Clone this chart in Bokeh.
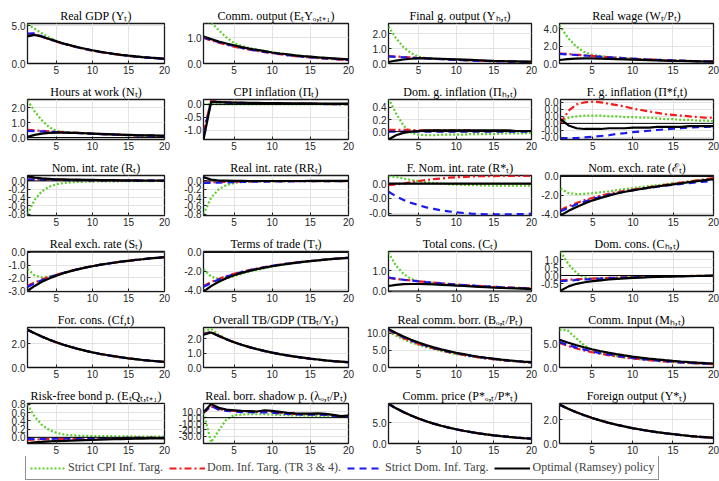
from bokeh.plotting import figure
from bokeh.layouts import column, row
from bokeh.models import (Range1d, FixedTicker, PrintfTickFormatter, Span,
                          Legend, LegendItem)
from bokeh.embed import file_html
from bokeh.resources import INLINE

x = list(range(1, 21))

# ---------------- data ----------------
gdp_cpi = [5.2, 4.6, 4.0, 3.45, 3.0, 2.65, 2.38, 2.13, 1.92, 1.72, 1.55, 1.39, 1.25, 1.13, 1.01, 0.91, 0.82, 0.74, 0.67, 0.6]
gdp_dom = [3.85, 3.95, 3.55, 3.22, 2.9, 2.6, 2.35, 2.1, 1.9, 1.7, 1.53, 1.38, 1.24, 1.12, 1.0, 0.9, 0.82, 0.74, 0.67, 0.6]
gdp_sdom = [3.95, 4.0, 3.6, 3.25, 2.93, 2.63, 2.37, 2.13, 1.92, 1.72, 1.55, 1.4, 1.26, 1.13, 1.02, 0.92, 0.83, 0.75, 0.68, 0.61]
gdp_ram = [3.6, 3.8, 3.55, 3.25, 2.95, 2.65, 2.4, 2.15, 1.95, 1.75, 1.57, 1.42, 1.28, 1.15, 1.04, 0.94, 0.85, 0.77, 0.7, 0.63]

com_cpi = [1.6, 1.6, 1.3, 1.02, 0.8, 0.68, 0.6, 0.54, 0.49, 0.44, 0.4, 0.36, 0.32, 0.29, 0.26, 0.24, 0.21, 0.19, 0.17, 0.15]
com_dom = [1.0, 0.9, 0.81, 0.73, 0.66, 0.6, 0.54, 0.49, 0.44, 0.4, 0.36, 0.32, 0.29, 0.26, 0.24, 0.21, 0.19, 0.17, 0.15, 0.13]
com_sdom = [1.02, 0.92, 0.83, 0.75, 0.68, 0.61, 0.55, 0.5, 0.45, 0.41, 0.37, 0.33, 0.3, 0.27, 0.24, 0.22, 0.2, 0.18, 0.16, 0.14]
com_ram = [1.05, 0.95, 0.86, 0.78, 0.71, 0.64, 0.58, 0.53, 0.48, 0.43, 0.39, 0.36, 0.32, 0.29, 0.27, 0.24, 0.22, 0.2, 0.18, 0.16]

fgo_cpi = [2.5, 1.7, 1.1, 0.7, 0.45, 0.37, 0.33, 0.3, 0.27, 0.25, 0.22, 0.2, 0.18, 0.17, 0.15, 0.14, 0.13, 0.12, 0.11, 0.1]
fgo_dom = [0.5, 0.47, 0.44, 0.41, 0.38, 0.35, 0.32, 0.3, 0.27, 0.25, 0.23, 0.21, 0.19, 0.17, 0.16, 0.14, 0.13, 0.12, 0.11, 0.1]
fgo_sdom = [0.48, 0.45, 0.42, 0.39, 0.36, 0.34, 0.31, 0.29, 0.26, 0.24, 0.22, 0.2, 0.18, 0.17, 0.15, 0.14, 0.13, 0.12, 0.11, 0.1]
fgo_ram = [0.1, 0.2, 0.27, 0.32, 0.34, 0.34, 0.33, 0.32, 0.3, 0.28, 0.26, 0.24, 0.22, 0.2, 0.18, 0.17, 0.15, 0.14, 0.13, 0.12]

wage_cpi = [4.4, 3.0, 2.0, 1.35, 1.0, 0.85, 0.75, 0.68, 0.62, 0.56, 0.5, 0.46, 0.42, 0.38, 0.35, 0.32, 0.29, 0.27, 0.25, 0.23]
wage_dom = [1.15, 1.1, 1.02, 0.95, 0.88, 0.8, 0.74, 0.67, 0.61, 0.56, 0.51, 0.47, 0.43, 0.39, 0.36, 0.33, 0.3, 0.28, 0.26, 0.24]
wage_sdom = [1.1, 1.05, 0.98, 0.92, 0.85, 0.78, 0.72, 0.66, 0.6, 0.55, 0.5, 0.46, 0.42, 0.38, 0.35, 0.32, 0.29, 0.27, 0.25, 0.23]
wage_ram = [0.4, 0.5, 0.56, 0.58, 0.58, 0.56, 0.54, 0.51, 0.48, 0.45, 0.42, 0.39, 0.36, 0.33, 0.31, 0.29, 0.27, 0.25, 0.23, 0.22]

hrs_cpi = [2.5, 1.75, 1.15, 0.7, 0.45, 0.38, 0.34, 0.31, 0.28, 0.26, 0.23, 0.21, 0.19, 0.17, 0.16, 0.14, 0.13, 0.12, 0.11, 0.1]
hrs_dom = [0.52, 0.48, 0.45, 0.42, 0.39, 0.36, 0.33, 0.31, 0.28, 0.26, 0.24, 0.22, 0.2, 0.18, 0.17, 0.15, 0.14, 0.13, 0.12, 0.11]
hrs_sdom = [0.45, 0.43, 0.41, 0.39, 0.37, 0.34, 0.32, 0.3, 0.27, 0.25, 0.23, 0.21, 0.19, 0.18, 0.16, 0.15, 0.14, 0.13, 0.12, 0.11]
hrs_ram = [0.05, 0.18, 0.26, 0.31, 0.33, 0.33, 0.32, 0.31, 0.29, 0.27, 0.25, 0.23, 0.21, 0.19, 0.18, 0.16, 0.15, 0.14, 0.13, 0.12]

cpi_cpi = [0.0, 0.0, 0.0, 0.0, 0.0, 0.0, 0.0, 0.0, 0.0, 0.0, 0.0, 0.0, 0.0, 0.0, 0.0, 0.0, 0.0, 0.0, 0.0, 0.0]
cpi_dom = [-1.05, 0.14, 0.1, 0.08, 0.07, 0.06, 0.05, 0.05, 0.04, 0.04, 0.03, 0.03, 0.03, 0.02, 0.02, 0.02, 0.02, 0.01, 0.01, 0.01]
cpi_sdom = [-1.15, 0.12, 0.09, 0.07, 0.06, 0.05, 0.05, 0.04, 0.04, 0.03, 0.03, 0.03, 0.02, 0.02, 0.02, 0.02, 0.01, 0.01, 0.01, 0.01]
cpi_ram = [-1.35, 0.1, 0.09, 0.08, 0.07, 0.07, 0.06, 0.06, 0.05, 0.05, 0.05, 0.04, 0.04, 0.04, 0.04, 0.03, 0.03, 0.03, 0.03, 0.03]

dgi_cpi = [0.55, 0.3, 0.1, -0.02, -0.05, -0.06, -0.06, -0.05, -0.05, -0.05, -0.05, -0.04, -0.04, -0.04, -0.04, -0.03, -0.03, -0.03, -0.03, -0.02]
dgi_dom = [0.03, 0.03, 0.03, 0.03, 0.02, 0.02, 0.02, 0.02, 0.02, 0.02, 0.02, 0.02, 0.01, 0.01, 0.01, 0.01, 0.01, 0.01, 0.01, 0.01]
dgi_sdom = [0.0, 0.0, 0.0, 0.0, 0.0, 0.0, 0.0, 0.0, 0.0, 0.0, 0.0, 0.0, 0.0, 0.0, 0.0, 0.0, 0.0, 0.0, 0.0, 0.0]
dgi_ram = [-0.13, -0.06, -0.02, 0.0, 0.01, 0.02, 0.02, 0.02, 0.02, 0.02, 0.02, 0.02, 0.02, 0.02, 0.02, 0.02, 0.02, 0.01, 0.01, 0.01]

fgi_cpi = [0.002, 0.008, 0.01, 0.011, 0.011, 0.011, 0.01, 0.01, 0.009, 0.009, 0.008, 0.008, 0.007, 0.006, 0.006, 0.005, 0.005, 0.004, 0.004, 0.003]
fgi_dom = [0.0, 0.018, 0.027, 0.03, 0.031, 0.03, 0.028, 0.026, 0.024, 0.021, 0.019, 0.017, 0.015, 0.013, 0.012, 0.011, 0.01, 0.009, 0.008, 0.008]
fgi_sdom = [-0.021, -0.021, -0.021, -0.02, -0.019, -0.018, -0.017, -0.015, -0.014, -0.0125, -0.0115, -0.0105, -0.0095, -0.0085, -0.0075, -0.007, -0.006, -0.0055, -0.005, -0.0045]
fgi_ram = [0.006, -0.003, -0.007, -0.008, -0.008, -0.008, -0.007, -0.007, -0.007, -0.006, -0.006, -0.006, -0.005, -0.005, -0.005, -0.005, -0.004, -0.004, -0.004, -0.004]

nir_cpi = [-0.8, -0.45, -0.25, -0.14, -0.08, -0.05, -0.035, -0.025, -0.02, -0.015, -0.012, -0.01, -0.009, -0.008, -0.007, -0.006, -0.005, -0.005, -0.004, -0.004]
nir_dom = [0.04, 0.04, 0.035, 0.03, 0.03, 0.025, 0.02, 0.02, 0.02, 0.015, 0.015, 0.01, 0.01, 0.01, 0.01, 0.01, 0.005, 0.005, 0.005, 0.005]
nir_sdom = [0.03, 0.03, 0.03, 0.025, 0.025, 0.02, 0.02, 0.02, 0.015, 0.015, 0.01, 0.01, 0.01, 0.01, 0.01, 0.005, 0.005, 0.005, 0.005, 0.005]
nir_ram = [0.11, 0.08, 0.06, 0.05, 0.04, 0.035, 0.03, 0.03, 0.025, 0.025, 0.02, 0.02, 0.02, 0.015, 0.015, 0.015, 0.01, 0.01, 0.01, 0.01]

rir_cpi = [-0.8, -0.4, -0.2, -0.1, -0.05, -0.03, -0.02, -0.015, -0.01, -0.01, -0.008, -0.007, -0.006, -0.005, -0.005, -0.004, -0.004, -0.003, -0.003, -0.003]
rir_dom = [-0.04, -0.035, -0.03, -0.025, -0.02, -0.018, -0.015, -0.013, -0.011, -0.01, -0.009, -0.008, -0.007, -0.006, -0.005, -0.005, -0.004, -0.004, -0.003, -0.003]
rir_sdom = [-0.05, -0.045, -0.04, -0.035, -0.03, -0.025, -0.02, -0.018, -0.015, -0.013, -0.011, -0.01, -0.009, -0.008, -0.007, -0.006, -0.005, -0.005, -0.004, -0.004]
rir_ram = [0.09, 0.03, 0.01, 0.005, 0.0, 0.0, -0.002, -0.002, -0.002, -0.002, -0.002, -0.002, -0.002, -0.002, -0.001, -0.001, -0.001, -0.001, -0.001, -0.001]

fnr_cpi = [0.005, 0.0045, 0.0035, 0.0025, 0.0016, 0.001, 0.0004, 0.0, -0.0004, -0.0007, -0.0009, -0.001, -0.0011, -0.0012, -0.0013, -0.0013, -0.0014, -0.0014, -0.0014, -0.0014]
fnr_dom = [-0.001, -0.0005, 0.0, 0.001, 0.0018, 0.0025, 0.003, 0.0035, 0.004, 0.0043, 0.0046, 0.0048, 0.005, 0.005, 0.0051, 0.0052, 0.0052, 0.0052, 0.0052, 0.0052]
fnr_sdom = [-0.0055, -0.0085, -0.011, -0.013, -0.0145, -0.016, -0.017, -0.018, -0.0187, -0.0193, -0.0198, -0.0202, -0.0205, -0.0207, -0.0208, -0.0208, -0.0207, -0.0206, -0.0205, -0.0203]
fnr_ram = [0.0, 0.0, 0.0, 0.0, 0.0, 0.0, 0.0, 0.0, 0.0, 0.0, 0.0, 0.0, 0.0, 0.0, 0.0, 0.0, 0.0, 0.0, 0.0, 0.0]

ner_cpi = [-1.3, -1.8, -1.9, -1.88, -1.8, -1.7, -1.6, -1.48, -1.37, -1.26, -1.15, -1.04, -0.94, -0.84, -0.74, -0.64, -0.54, -0.44, -0.34, -0.24]
ner_dom = [-3.6, -3.2, -2.85, -2.55, -2.3, -2.07, -1.87, -1.7, -1.55, -1.42, -1.29, -1.16, -1.03, -0.9, -0.78, -0.66, -0.54, -0.42, -0.3, -0.18]
ner_sdom = [-3.75, -3.35, -3.0, -2.7, -2.43, -2.19, -1.98, -1.8, -1.63, -1.48, -1.35, -1.23, -1.11, -1.0, -0.9, -0.8, -0.71, -0.63, -0.55, -0.47]
ner_ram = [-4.2, -3.7, -3.28, -2.9, -2.57, -2.3, -2.06, -1.84, -1.65, -1.5, -1.35, -1.21, -1.08, -0.96, -0.85, -0.73, -0.62, -0.5, -0.4, -0.3]

rer_cpi = [-1.3, -1.8, -1.95, -1.9, -1.78, -1.6, -1.45, -1.31, -1.19, -1.08, -0.98, -0.89, -0.81, -0.73, -0.66, -0.6, -0.54, -0.48, -0.43, -0.38]
rer_dom = [-2.6, -2.35, -2.12, -1.92, -1.75, -1.59, -1.44, -1.31, -1.19, -1.08, -0.98, -0.89, -0.81, -0.73, -0.66, -0.6, -0.54, -0.48, -0.43, -0.38]
rer_sdom = [-2.7, -2.42, -2.17, -1.96, -1.77, -1.61, -1.46, -1.32, -1.2, -1.09, -0.99, -0.9, -0.81, -0.74, -0.67, -0.6, -0.54, -0.49, -0.44, -0.39]
rer_ram = [-3.0, -2.62, -2.3, -2.04, -1.82, -1.63, -1.47, -1.33, -1.2, -1.09, -0.99, -0.9, -0.82, -0.74, -0.67, -0.61, -0.55, -0.49, -0.44, -0.39]

tot_cpi = [-1.8, -2.6, -2.85, -2.75, -2.55, -2.3, -2.07, -1.87, -1.69, -1.53, -1.39, -1.26, -1.14, -1.04, -0.94, -0.85, -0.77, -0.7, -0.63, -0.57]
tot_dom = [-3.6, -3.2, -2.85, -2.55, -2.3, -2.08, -1.89, -1.72, -1.57, -1.43, -1.31, -1.2, -1.1, -1.0, -0.92, -0.84, -0.76, -0.69, -0.63, -0.57]
tot_sdom = [-3.7, -3.28, -2.92, -2.61, -2.35, -2.12, -1.92, -1.75, -1.59, -1.45, -1.32, -1.21, -1.1, -1.01, -0.92, -0.84, -0.76, -0.7, -0.63, -0.58]
tot_ram = [-4.2, -3.62, -3.15, -2.77, -2.46, -2.2, -1.98, -1.79, -1.63, -1.48, -1.35, -1.23, -1.12, -1.02, -0.93, -0.85, -0.77, -0.7, -0.64, -0.58]

tc_cpi = [1.9, 1.25, 0.85, 0.6, 0.48, 0.43, 0.4, 0.37, 0.34, 0.31, 0.28, 0.26, 0.24, 0.22, 0.2, 0.18, 0.16, 0.15, 0.13, 0.12]
tc_dom = [0.65, 0.6, 0.56, 0.52, 0.48, 0.45, 0.42, 0.39, 0.36, 0.33, 0.3, 0.28, 0.26, 0.23, 0.21, 0.19, 0.18, 0.16, 0.15, 0.13]
tc_sdom = [0.67, 0.61, 0.56, 0.52, 0.48, 0.44, 0.41, 0.38, 0.35, 0.32, 0.3, 0.27, 0.25, 0.23, 0.21, 0.19, 0.17, 0.16, 0.14, 0.13]
tc_ram = [0.25, 0.31, 0.34, 0.35, 0.35, 0.34, 0.33, 0.31, 0.29, 0.27, 0.25, 0.23, 0.21, 0.19, 0.17, 0.16, 0.14, 0.13, 0.12, 0.1]

dc_cpi = [1.5, 0.7, 0.15, -0.12, -0.18, -0.17, -0.15, -0.13, -0.11, -0.1, -0.08, -0.07, -0.06, -0.05, -0.04, -0.03, -0.03, -0.02, -0.02, -0.01]
dc_dom = [-0.3, -0.27, -0.24, -0.21, -0.19, -0.17, -0.15, -0.13, -0.11, -0.1, -0.08, -0.07, -0.06, -0.05, -0.04, -0.03, -0.03, -0.02, -0.02, -0.01]
dc_sdom = [-0.35, -0.32, -0.28, -0.25, -0.22, -0.19, -0.17, -0.15, -0.13, -0.11, -0.09, -0.08, -0.07, -0.06, -0.05, -0.04, -0.03, -0.03, -0.02, -0.02]
dc_ram = [-0.95, -0.68, -0.52, -0.42, -0.35, -0.3, -0.25, -0.21, -0.18, -0.15, -0.13, -0.11, -0.09, -0.07, -0.06, -0.05, -0.04, -0.03, -0.02, -0.01]

fc_cpi = [3.2, 2.9, 2.62, 2.36, 2.13, 1.93, 1.74, 1.57, 1.42, 1.28, 1.16, 1.05, 0.95, 0.86, 0.77, 0.7, 0.63, 0.57, 0.52, 0.47]
fc_dom = [3.2, 2.9, 2.62, 2.36, 2.13, 1.93, 1.74, 1.57, 1.42, 1.28, 1.16, 1.05, 0.95, 0.86, 0.77, 0.7, 0.63, 0.57, 0.52, 0.47]
fc_sdom = [3.2, 2.9, 2.62, 2.36, 2.13, 1.93, 1.74, 1.57, 1.42, 1.28, 1.16, 1.05, 0.95, 0.86, 0.77, 0.7, 0.63, 0.57, 0.52, 0.47]
fc_ram = [3.21, 2.91, 2.63, 2.37, 2.14, 1.94, 1.75, 1.58, 1.43, 1.29, 1.17, 1.06, 0.96, 0.87, 0.78, 0.71, 0.64, 0.58, 0.53, 0.48]

tb_cpi = [2.55, 2.7, 2.3, 2.0, 1.78, 1.59, 1.43, 1.28, 1.15, 1.03, 0.93, 0.84, 0.75, 0.68, 0.61, 0.55, 0.49, 0.44, 0.4, 0.36]
tb_dom = [2.35, 2.5, 2.22, 1.98, 1.77, 1.59, 1.43, 1.28, 1.15, 1.03, 0.93, 0.84, 0.75, 0.68, 0.61, 0.55, 0.49, 0.44, 0.4, 0.36]
tb_sdom = [2.33, 2.48, 2.21, 1.98, 1.77, 1.59, 1.43, 1.28, 1.15, 1.04, 0.93, 0.84, 0.76, 0.68, 0.61, 0.55, 0.5, 0.45, 0.4, 0.36]
tb_ram = [2.3, 2.45, 2.2, 1.97, 1.77, 1.59, 1.43, 1.29, 1.16, 1.04, 0.94, 0.85, 0.76, 0.69, 0.62, 0.56, 0.5, 0.45, 0.41, 0.37]

rcb_cpi = [10.5, 9.3, 8.25, 7.35, 6.6, 5.95, 5.35, 4.82, 4.35, 3.93, 3.55, 3.2, 2.89, 2.61, 2.36, 2.13, 1.93, 1.74, 1.58, 1.43]
rcb_dom = [10.9, 9.7, 8.65, 7.7, 6.9, 6.2, 5.55, 5.0, 4.5, 4.05, 3.65, 3.28, 2.95, 2.66, 2.4, 2.16, 1.95, 1.76, 1.59, 1.44]
rcb_sdom = [11.1, 9.9, 8.85, 7.9, 7.1, 6.35, 5.7, 5.15, 4.62, 4.16, 3.75, 3.38, 3.05, 2.75, 2.48, 2.24, 2.02, 1.83, 1.65, 1.5]
rcb_ram = [11.3, 10.1, 9.05, 8.1, 7.3, 6.55, 5.9, 5.3, 4.8, 4.3, 3.9, 3.5, 3.15, 2.85, 2.57, 2.32, 2.1, 1.9, 1.72, 1.55]

ci_cpi = [8.0, 7.9, 6.3, 4.8, 3.7, 3.05, 2.7, 2.42, 2.17, 1.95, 1.76, 1.59, 1.43, 1.29, 1.17, 1.06, 0.96, 0.87, 0.78, 0.71]
ci_dom = [5.2, 4.6, 4.08, 3.65, 3.27, 2.94, 2.64, 2.38, 2.14, 1.93, 1.74, 1.57, 1.42, 1.28, 1.16, 1.05, 0.95, 0.86, 0.78, 0.7]
ci_sdom = [5.4, 4.8, 4.27, 3.82, 3.42, 3.07, 2.76, 2.48, 2.24, 2.02, 1.82, 1.65, 1.49, 1.35, 1.22, 1.1, 1.0, 0.9, 0.82, 0.74]
ci_ram = [5.9, 5.3, 4.78, 4.3, 3.88, 3.5, 3.16, 2.85, 2.57, 2.32, 2.1, 1.9, 1.72, 1.55, 1.4, 1.27, 1.15, 1.04, 0.94, 0.85]

rfb_cpi = [0.8, 0.5, 0.3, 0.18, 0.11, 0.07, 0.05, 0.04, 0.035, 0.03, 0.03, 0.03, 0.025, 0.025, 0.025, 0.02, 0.02, 0.02, 0.02, 0.02]
rfb_dom = [-0.06, -0.055, -0.05, -0.045, -0.04, -0.038, -0.035, -0.032, -0.03, -0.027, -0.025, -0.023, -0.021, -0.019, -0.017, -0.015, -0.014, -0.013, -0.012, -0.011]
rfb_sdom = [-0.04, -0.038, -0.036, -0.034, -0.032, -0.03, -0.028, -0.026, -0.024, -0.022, -0.02, -0.019, -0.017, -0.016, -0.015, -0.014, -0.013, -0.012, -0.011, -0.01]
rfb_ram = [-0.14, -0.12, -0.11, -0.1, -0.09, -0.085, -0.078, -0.072, -0.066, -0.06, -0.055, -0.05, -0.046, -0.042, -0.038, -0.035, -0.032, -0.029, -0.026, -0.024]

rbs_cpi = [8, -40, -21, -3, 4, 5, 5.5, 5.5, 5.5, 5, 4.5, 4, 3.5, 3.5, 3, 3, 3, 2.5, 1.5, 2]
rbs_dom = [8, 18, 14, 12, 11, 10, 10, 9.5, 10, 9, 8, 7, 6, 5.5, 5.5, 5.5, 5, 3.5, 2, 3]
rbs_sdom = [8.5, 19, 13, 11, 10, 9, 9, 8.5, 9, 8, 7, 6, 5.5, 5, 5, 5, 4.5, 3, 1.5, 2.5]
rbs_ram = [8.5, 22, 16, 13, 12, 11, 10.5, 10, 12, 11, 9.5, 8, 7, 6.5, 6.5, 7, 6, 4.5, 2.5, 3.5]

cp_cpi = [9.5, 8.45, 7.52, 6.7, 5.97, 5.33, 4.76, 4.25, 3.8, 3.4, 3.04, 2.72, 2.43, 2.18, 1.95, 1.75, 1.57, 1.41, 1.27, 1.14]
cp_dom = [9.5, 8.45, 7.52, 6.7, 5.97, 5.33, 4.76, 4.25, 3.8, 3.4, 3.04, 2.72, 2.43, 2.18, 1.95, 1.75, 1.57, 1.41, 1.27, 1.14]
cp_sdom = [9.5, 8.45, 7.52, 6.7, 5.97, 5.33, 4.76, 4.25, 3.8, 3.4, 3.04, 2.72, 2.43, 2.18, 1.95, 1.75, 1.57, 1.41, 1.27, 1.14]
cp_ram = [9.52, 8.47, 7.54, 6.72, 5.99, 5.35, 4.78, 4.27, 3.82, 3.42, 3.06, 2.74, 2.45, 2.2, 1.97, 1.77, 1.59, 1.43, 1.29, 1.16]

fo_cpi = [3.25, 2.92, 2.63, 2.37, 2.14, 1.93, 1.74, 1.57, 1.42, 1.28, 1.16, 1.05, 0.95, 0.86, 0.78, 0.7, 0.63, 0.57, 0.52, 0.47]
fo_dom = [3.25, 2.92, 2.63, 2.37, 2.14, 1.93, 1.74, 1.57, 1.42, 1.28, 1.16, 1.05, 0.95, 0.86, 0.78, 0.7, 0.63, 0.57, 0.52, 0.47]
fo_sdom = [3.25, 2.92, 2.63, 2.37, 2.14, 1.93, 1.74, 1.57, 1.42, 1.28, 1.16, 1.05, 0.95, 0.86, 0.78, 0.7, 0.63, 0.57, 0.52, 0.47]
fo_ram = [3.26, 2.93, 2.64, 2.38, 2.15, 1.94, 1.75, 1.58, 1.43, 1.29, 1.17, 1.06, 0.96, 0.87, 0.79, 0.71, 0.64, 0.58, 0.53, 0.48]

titles = [
    "Real GDP (Yₜ)", "Comm. output (EₜYₒ,ₜ₊₁)", "Final g. output (Yₕ,ₜ)", "Real wage (Wₜ/Pₜ)",
    "Hours at work (Nₜ)", "CPI inflation (Πₜ)", "Dom. g. inflation (Πₕ,ₜ)", "F. g. inflation (Π*f,t)",
    "Nom. int. rate (Rₜ)", "Real int. rate (RRₜ)", "F. Nom. int. rate (R*ₜ)", "Nom. exch. rate (ℰₜ)",
    "Real exch. rate (Sₜ)", "Terms of trade (Tₜ)", "Total cons. (Cₜ)", "Dom. cons. (Cₕ,ₜ)",
    "For. cons. (Cf,t)", "Overall TB/GDP (TBₜ/Yₜ)", "Real comm. borr. (Bₒ,ₜ/Pₜ)", "Comm. Input (Mₕ,ₜ)",
    "Risk-free bond p. (EₜQₜ,ₜ₊₁)", "Real. borr. shadow p. (λₒ,ₜ/Pₜ)", "Comm. price (P*ₒ,ₜ/P*ₜ)", "Foreign output (Y*ₜ)",
]

series = [
    (gdp_cpi, gdp_dom, gdp_sdom, gdp_ram), (com_cpi, com_dom, com_sdom, com_ram),
    (fgo_cpi, fgo_dom, fgo_sdom, fgo_ram), (wage_cpi, wage_dom, wage_sdom, wage_ram),
    (hrs_cpi, hrs_dom, hrs_sdom, hrs_ram), (cpi_cpi, cpi_dom, cpi_sdom, cpi_ram),
    (dgi_cpi, dgi_dom, dgi_sdom, dgi_ram), (fgi_cpi, fgi_dom, fgi_sdom, fgi_ram),
    (nir_cpi, nir_dom, nir_sdom, nir_ram), (rir_cpi, rir_dom, rir_sdom, rir_ram),
    (fnr_cpi, fnr_dom, fnr_sdom, fnr_ram), (ner_cpi, ner_dom, ner_sdom, ner_ram),
    (rer_cpi, rer_dom, rer_sdom, rer_ram), (tot_cpi, tot_dom, tot_sdom, tot_ram),
    (tc_cpi, tc_dom, tc_sdom, tc_ram), (dc_cpi, dc_dom, dc_sdom, dc_ram),
    (fc_cpi, fc_dom, fc_sdom, fc_ram), (tb_cpi, tb_dom, tb_sdom, tb_ram),
    (rcb_cpi, rcb_dom, rcb_sdom, rcb_ram), (ci_cpi, ci_dom, ci_sdom, ci_ram),
    (rfb_cpi, rfb_dom, rfb_sdom, rfb_ram), (rbs_cpi, rbs_dom, rbs_sdom, rbs_ram),
    (cp_cpi, cp_dom, cp_sdom, cp_ram), (fo_cpi, fo_dom, fo_sdom, fo_ram),
]

y_ticks = [
    [0, 5], [0, 1], [0, 1, 2], [0, 2, 4],
    [0, 1, 2], [-1, -0.5, 0], [0, 0.2, 0.4], [-0.02, -0.01, 0, 0.01, 0.02, 0.03],
    [-0.8, -0.6, -0.4, -0.2, 0], [-0.8, -0.6, -0.4, -0.2, 0], [-0.02, -0.01, 0], [-4, -2, 0],
    [-3, -2, -1, 0], [-4, -2, 0], [0, 1], [-0.5, 0, 0.5, 1],
    [0, 2], [0, 1, 2], [0, 5, 10], [0, 5],
    [0, 0.2, 0.4, 0.6, 0.8], [-30, -20, -10, 0, 10], [0, 5], [0, 2],
]
x_ticks = [5, 10, 15, 20]

legend_labels = ["Strict CPI Inf. Targ.", "Dom. Inf. Targ. (TR 3 & 4).",
                 "Strict Dom. Inf. Targ.", "Optimal (Ramsey) policy"]

# ---------------- styling / layout ----------------
y_limits = [
    (0, 5.3), (0, 1.56), (0, 2.7), (0, 4.6),
    (-0.13, 2.55), (-1.35, 0.19), (-0.13, 0.53), (-0.023, 0.034),
    (-0.83, 0.13), (-0.83, 0.13), (-0.0215, 0.0055), (-4.2, 0.1),
    (-3.05, 0.05), (-4.2, 0.1), (-0.02, 1.95), (-1.0, 1.5),
    (0, 3.4), (0, 2.8), (0, 11.7), (0, 8.5),
    (-0.15, 0.82), (-42, 23), (0, 9.6), (0, 3.35),
]
styles = [
    dict(line_color="#5ccf2a", line_dash="2 2", line_width=2.2),
    dict(line_color="#f21b1b", line_dash="7 3 2 3", line_width=2.2),
    dict(line_color="#1a1aef", line_dash="7 5", line_width=2.2),
    dict(line_color="#000000", line_width=2.2),
]
col_w = [175, 181, 182, 181]
col_l = [27, 28, 32, 21]
col_r = [11, 8, 7, 6]
ROW_H = 76

TICK_FONT = "Liberation Sans"
SERIF = "Liberation Serif"

figs = []
for i in range(24):
    c = i % 4
    p = figure(width=col_w[c], height=ROW_H, output_backend="svg", toolbar_location=None,
               x_range=Range1d(1, 20), y_range=Range1d(*y_limits[i]),
               min_border_left=col_l[c], min_border_right=col_r[c],
               min_border_top=23, min_border_bottom=13,
               background_fill_color="white", border_fill_color="white",
               outline_line_color="#1a1a1a", outline_line_width=1.3)
    p.title.text = titles[i]
    p.title.align = "center"
    p.title.text_font = SERIF
    p.title.text_font_size = "12px"
    p.title.text_font_style = "normal"
    p.title.text_color = "black"
    p.title.standoff = 2
    for ax, tk in ((p.xaxis[0], x_ticks), (p.yaxis[0], y_ticks[i])):
        ax.ticker = FixedTicker(ticks=tk)
        ax.axis_line_color = None
        ax.major_tick_in = 3
        ax.major_tick_out = 0
        ax.major_tick_line_color = "#262626"
        ax.minor_tick_line_color = None
        ax.major_label_text_font = TICK_FONT
        ax.major_label_text_font_size = "10px"
        ax.major_label_text_color = "#262626"
        ax.major_label_standoff = 2
    p.yaxis[0].formatter = PrintfTickFormatter(format="%.1f")
    p.xgrid.ticker = FixedTicker(ticks=x_ticks)
    p.ygrid.ticker = FixedTicker(ticks=y_ticks[i])
    p.grid.grid_line_color = "#e3e3e3"
    p.grid.grid_line_width = 1
    p.add_layout(Span(location=0, dimension="width", line_color="black", line_width=1))
    for s, st in zip(series[i], styles):
        p.line(x, s, **st)
    figs.append(p)

rows = [row(*figs[r * 4:(r + 1) * 4]) for r in range(6)]

# legend strip: the proxy lines sit outside the visible range, so only the legend shows them
lg = figure(width=719, height=25, output_backend="svg", toolbar_location=None,
            x_range=Range1d(0, 1), y_range=Range1d(0, 1),
            min_border_left=0, min_border_right=0, min_border_top=0, min_border_bottom=0,
            outline_line_color=None, background_fill_color="white", border_fill_color="white")
lg.axis.visible = False
lg.grid.visible = False
items = []
for lab, st in zip(legend_labels, styles):
    r = lg.line([5, 6], [5, 6], **st)
    items.append(LegendItem(label=lab, renderers=[r]))
legend = Legend(items=items, orientation="horizontal", location=(25, 1),
                label_text_font=SERIF, label_text_font_size="12px",
                glyph_width=36, glyph_height=14, label_height=14, label_standoff=2,
                spacing=6, padding=4, margin=0,
                border_line_color="#222222", border_line_width=1,
                background_fill_alpha=1)
lg.add_layout(legend, "center")

layout = column(*rows, lg)
open("out.html", "w").write(file_html(layout, INLINE))
